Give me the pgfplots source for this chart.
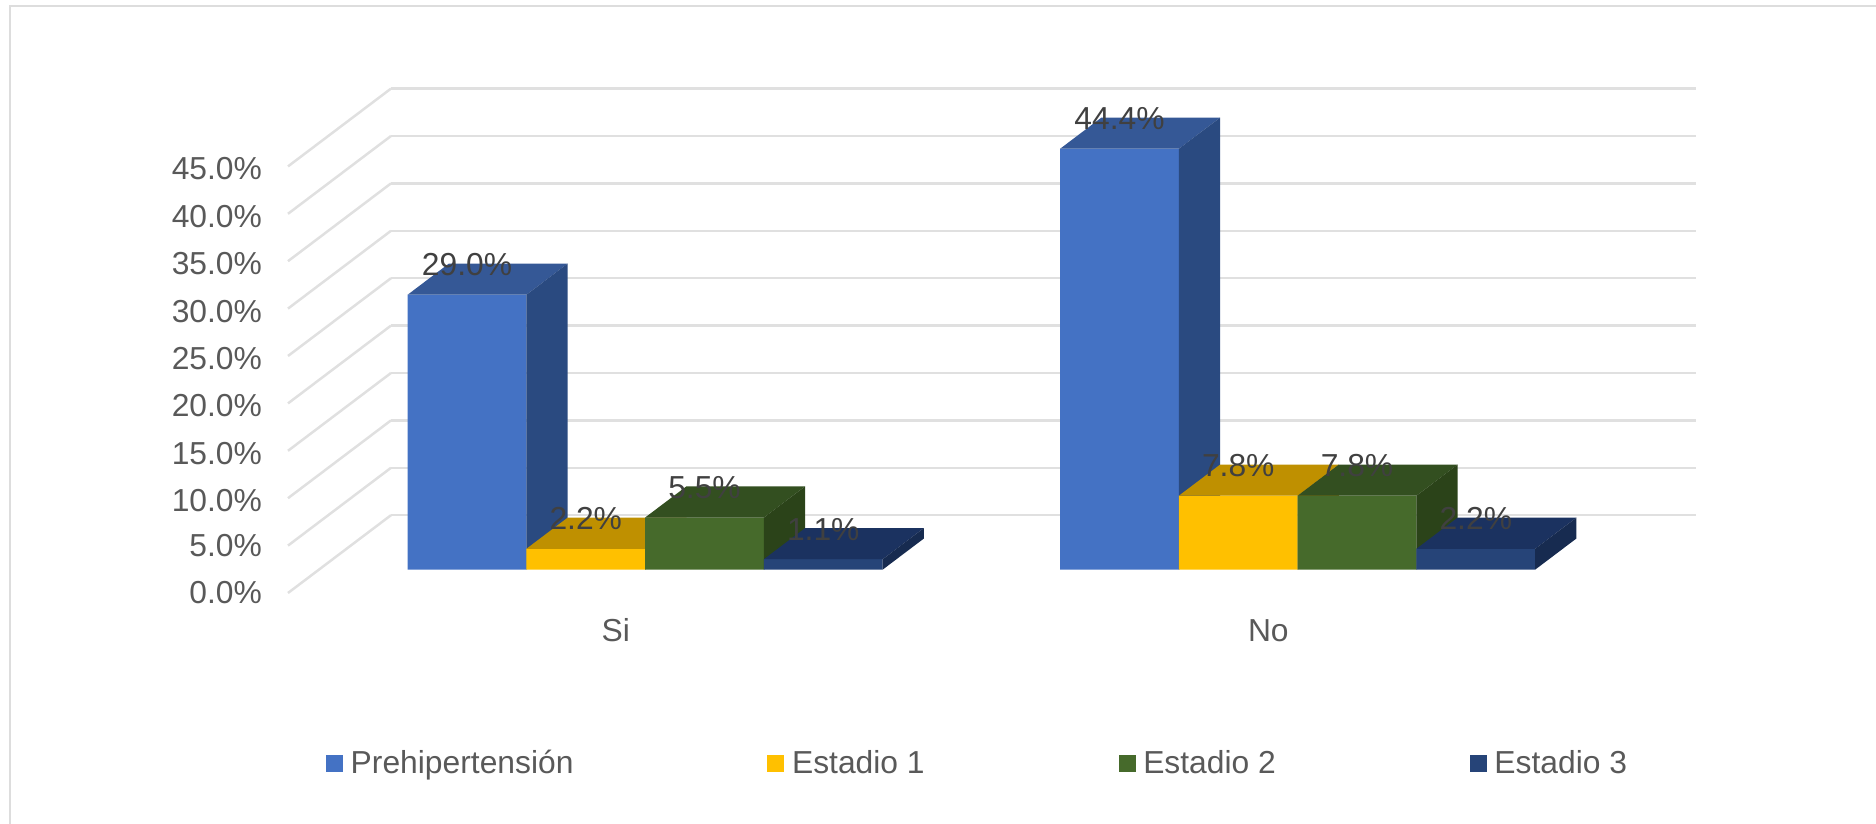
\documentclass[border=0pt]{standalone}
\usepackage{pgfplots}
\pgfplotsset{compat=1.18}
\usepackage{fontspec}
\setmainfont{Liberation Sans}
\definecolor{gridc}{HTML}{E0E0E0}
\definecolor{framec}{HTML}{DDDDDD}
\definecolor{labc}{HTML}{595959}
\definecolor{valc}{HTML}{404040}
\definecolor{blueF}{HTML}{4472C4}
\definecolor{blueT}{HTML}{355896}
\definecolor{blueS}{HTML}{2A4A80}
\definecolor{yelF}{HTML}{FFC000}
\definecolor{yelT}{HTML}{BF9000}
\definecolor{yelS}{HTML}{A67C00}
\definecolor{greF}{HTML}{466A2B}
\definecolor{greT}{HTML}{334F20}
\definecolor{greS}{HTML}{2B4319}
\definecolor{navF}{HTML}{264478}
\definecolor{navT}{HTML}{1B3260}
\definecolor{navS}{HTML}{172B50}

% one 3D bar: x0, x1, value, front, top, side colours
\newcommand{\threedbar}[6]{
  \addplot3[fill=#4,draw=none,forget plot] coordinates {(#1,0.3,0) (#2,0.3,0) (#2,0.3,#3) (#1,0.3,#3) (#1,0.3,0)};
  \addplot3[fill=#5,draw=none,forget plot] coordinates {(#1,0.3,#3) (#2,0.3,#3) (#2,0.7,#3) (#1,0.7,#3) (#1,0.3,#3)};
  \addplot3[fill=#6,draw=none,forget plot] coordinates {(#2,0.3,0) (#2,0.7,0) (#2,0.7,#3) (#2,0.3,#3) (#2,0.3,0)};
}
\newcommand{\barlabel}[2]{
  \node[text=valc,yshift=15pt] at (axis cs:#1,0.3,#2) {\pgfmathprintnumber[fixed,fixed zerofill,precision=1,assume math mode=true]{#2}\%};
}

\begin{document}
\begin{tikzpicture}
\path[use as bounding box] (0,0) rectangle (938pt,412pt);
\draw[framec,line width=1pt] (5pt,-2pt) -- (5pt,409pt) -- (938pt,409pt);
\begin{axis}[
  at={(144pt,115.5pt)}, anchor=south west,
  x={(326.25pt,0pt)}, y={(51.5pt,38.9pt)}, z={(0pt,4.74pt)},
  xmin=0.5, xmax=2.5, ymin=0, ymax=1, zmin=0, zmax=45,
  xtick={1,2}, xticklabels={Si,No}, ytick=\empty,
  ztick={0,5,...,45},
  zticklabel={\pgfmathprintnumber[fixed,fixed zerofill,precision=1,assume math mode=true]{\tick}\%},
  axis line style={draw=none},
  major tick length=0pt,
  zmajorgrids, xmajorgrids=false,
  grid style={gridc,line width=1.25pt},
  tick label style={text=labc},
  zticklabel style={xshift=-9.5pt,yshift=7.5pt},
  xticklabel style={anchor=base,xshift=0.8pt,yshift=-24.4pt},
  font=\fontsize{15.9}{19}\selectfont,
  clip=false,
  legend columns=4,
  legend style={draw=none,fill=none,text=labc,at={(0.5,-0.2)},anchor=north,
    xshift=-6.7pt,yshift=-24pt,
    /tikz/every even column/.append style={column sep=95pt}},
  legend image code/.code={\fill[#1,draw=none] (0pt,-4.25pt) rectangle (8.5pt,4.25pt);\path[draw=none] (0pt,0pt) -- (10.3pt,0pt);},
]
\threedbar{0.636}{0.818}{29.0}{blueF}{blueT}{blueS}
\threedbar{0.818}{1.000}{2.2}{yelF}{yelT}{yelS}
\threedbar{1.000}{1.182}{5.5}{greF}{greT}{greS}
\threedbar{1.182}{1.364}{1.1}{navF}{navT}{navS}
\threedbar{1.636}{1.818}{44.4}{blueF}{blueT}{blueS}
\threedbar{1.818}{2.000}{7.8}{yelF}{yelT}{yelS}
\threedbar{2.000}{2.182}{7.8}{greF}{greT}{greS}
\threedbar{2.182}{2.364}{2.2}{navF}{navT}{navS}
\barlabel{0.727}{29.0}
\barlabel{0.909}{2.2}
\barlabel{1.091}{5.5}
\barlabel{1.273}{1.1}
\barlabel{1.727}{44.4}
\barlabel{1.909}{7.8}
\barlabel{2.091}{7.8}
\barlabel{2.273}{2.2}
\addlegendimage{blueF}\addlegendentry{Prehipertensión}
\addlegendimage{yelF}\addlegendentry{Estadio 1}
\addlegendimage{greF}\addlegendentry{Estadio 2}
\addlegendimage{navF}\addlegendentry{Estadio 3}
\end{axis}
\end{tikzpicture}
\end{document}
